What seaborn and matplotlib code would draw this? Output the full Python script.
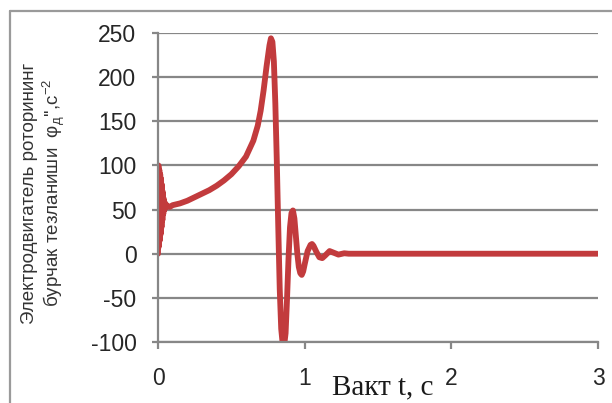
import numpy as np
import pandas as pd
import matplotlib
matplotlib.use("Agg")
import matplotlib.pyplot as plt
from matplotlib.lines import Line2D
import seaborn as sns

# --- data ---
t_start = [0.0, 0.003, 0.006, 0.009, 0.012, 0.015, 0.018, 0.021, 0.024, 0.027,
           0.030, 0.033, 0.036, 0.040, 0.045, 0.050, 0.060]
v_start = [0, 100, 8, 95, 15, 90, 22, 85, 30, 78,
           38, 70, 45, 62, 50, 57, 54]

t_main = [0.08, 0.10, 0.15, 0.20, 0.25, 0.30, 0.35, 0.40, 0.45, 0.50,
          0.55, 0.60, 0.65, 0.68, 0.70, 0.72, 0.74, 0.76, 0.77, 0.78,
          0.79, 0.80, 0.81, 0.82, 0.83, 0.84, 0.85, 0.86, 0.87, 0.88,
          0.89, 0.90, 0.91, 0.92, 0.93, 0.94, 0.95, 0.96, 0.97, 0.98,
          0.99, 1.00, 1.02, 1.04, 1.05, 1.06, 1.08, 1.10, 1.12, 1.14,
          1.17, 1.20, 1.23, 1.27, 1.30, 2.00, 3.00]
v_main = [53, 55, 57, 60, 64, 68, 72, 77, 83, 90,
          99, 110, 128, 145, 162, 185, 212, 236, 244, 240,
          218, 170, 105, 30, -40, -85, -102, -104, -90, -50,
          -5, 30, 46, 49, 40, 20, 0, -15, -22, -24,
          -20, -12, 3, 10, 11, 9, 2, -4, -5, -2,
          3, 1, -1, 0.5, 0, 0, 0]

y_ticks = [-100, -50, 0, 50, 100, 150, 200, 250]
x_ticks = [0, 1, 2, 3]
x_label = "Вакт t, с"
y_label = "Электродвигатель роторининг\nбурчак тезланиши  φ$_{\\mathrm{д}}$'',с$^{-2}$"

df = pd.DataFrame({"t": t_start + t_main, "v": v_start + v_main})

sns.set_theme(style="white")
plt.rcParams["font.family"] = ["Liberation Sans", "DejaVu Sans"]
plt.rcParams["mathtext.fontset"] = "custom"
plt.rcParams["mathtext.rm"] = "Liberation Sans"
plt.rcParams["mathtext.it"] = "Liberation Sans:italic"

W, H = 612, 403
fig = plt.figure(figsize=(W / 100, H / 100), dpi=100)
ax = fig.add_axes([158 / W, 1 - 342 / H, (598 - 158) / W, (342 - 33) / H])

grid_c = "#878787"
sns.lineplot(data=df, x="t", y="v", ax=ax, color="#C23B3D", lw=4.2,
             sort=False, estimator=None)

ax.set_xlim(0, 3)
ax.set_ylim(-100, 250)
ax.set_yticks(y_ticks)
ax.set_xticks(x_ticks)
ax.set_yticklabels([str(v) for v in y_ticks])
ax.set_xticklabels([str(v) for v in x_ticks])
ax.yaxis.grid(True, color=grid_c, lw=1.6)
ax.xaxis.grid(False)
ax.set_axisbelow(True)
for s in ["top", "right"]:
    ax.spines[s].set_visible(False)
for s in ["left", "bottom"]:
    ax.spines[s].set_color(grid_c)
    ax.spines[s].set_linewidth(1.6)
ax.tick_params(axis="y", direction="out", length=4.5, width=1.6, color=grid_c,
               labelsize=16.5, pad=11, labelcolor="#262626", left=True)
ax.tick_params(axis="x", direction="out", length=5, width=1.6, color=grid_c,
               labelsize=16.5, pad=13, labelcolor="#262626", bottom=True)
ax.set_xlabel("")
ax.set_ylabel("")

fig.text(383 / W, 1 - 394 / H, x_label, ha="center", va="baseline",
         fontsize=21, family=["Liberation Serif", "DejaVu Serif"], color="#1a1a1a")
fig.text(44 / W, 1 - 193 / H, y_label, ha="center", va="center", rotation=90,
         fontsize=13.5, color="#333333", linespacing=1.1,
         family=["Liberation Sans", "DejaVu Sans"])

# outer chart frame (top and left edges visible)
fig.add_artist(Line2D([10 / W, 10 / W], [0, 1 - 11 / H], transform=fig.transFigure,
                      color="#9a9a9a", lw=1.6))
fig.add_artist(Line2D([10 / W, 1], [1 - 11 / H, 1 - 11 / H], transform=fig.transFigure,
                      color="#9a9a9a", lw=1.6))

fig.savefig("out.png", dpi=100)
